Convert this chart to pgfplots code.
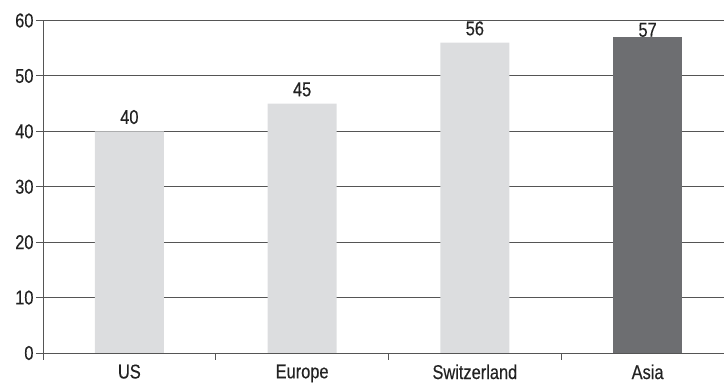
\documentclass[border=0pt]{standalone}
\usepackage{fontspec}
\setmainfont{Liberation Sans}[FakeStretch=0.82, FakeBold=0.3]
\usepackage{pgfplots}
\pgfplotsset{compat=1.18}
\definecolor{barlight}{HTML}{DCDDDF}
\definecolor{bardark}{HTML}{6D6E71}
\definecolor{gridc}{HTML}{555555}
\definecolor{txt}{HTML}{222222}
\begin{document}
\begin{tikzpicture}[x=1pt,y=1pt]
\begin{axis}[
  at={(0,0)}, anchor=south west,
  scale only axis,
  width=691pt, height=332.5pt,
  xmin=-0.5, xmax=3.5,
  ymin=0, ymax=60,
  axis x line*=bottom, axis y line*=left,
  axis line style={draw=gridc, line width=0.9pt},
  ytick={0,10,...,60},
  ymajorgrids,
  grid style={draw=gridc, line width=0.9pt},
  tick align=outside,
  major tick length=7pt,
  tick style={draw=gridc, line width=0.9pt},
  xtick={-0.5,0.5,1.5,2.5,3.5},
  xticklabels={},
  extra x ticks={0,1,2,3},
  extra x tick labels={US,Europe,Switzerland,Asia},
  extra x tick style={major tick length=0pt, xticklabel style={yshift=-8pt}},
  font=\fontsize{20}{22}\selectfont,
  tick label style={text=txt, font=\fontsize{20}{22}\selectfont},
  yticklabel style={xshift=1pt},
  /pgf/number format/assume math mode=true,
  ybar, bar width=69pt, bar shift=0pt,
  nodes near coords,
  every node near coord/.append style={anchor=south, inner sep=0pt, text=txt, font=\fontsize{20}{22}\selectfont},
  clip=false,
]
\addplot[fill=barlight, draw=none,
  every node near coord/.append style={yshift=7pt}]
  coordinates {(0,40) (1,45) (2,56)};
\addplot[fill=bardark, draw=none,
  every node near coord/.append style={yshift=0pt}]
  coordinates {(3,57)};
\end{axis}
\pgfresetboundingbox
\useasboundingbox (-43,-30) rectangle (681,353);
\end{tikzpicture}
\end{document}
